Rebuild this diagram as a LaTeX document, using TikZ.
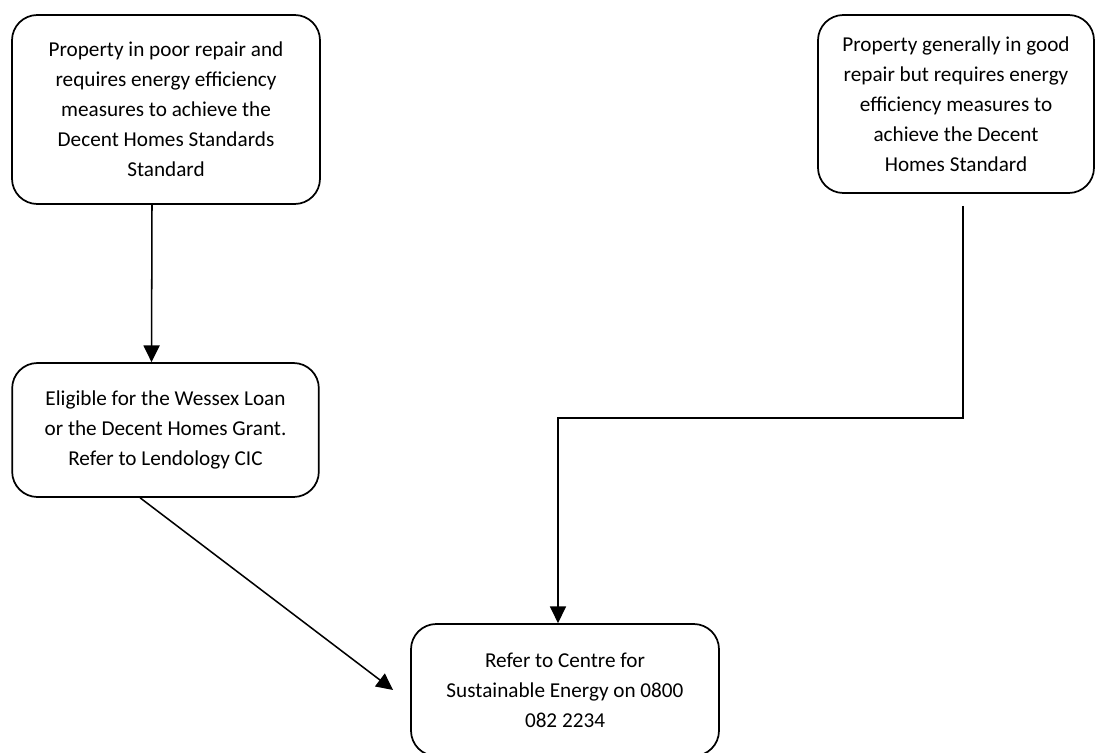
\documentclass[tikz,border=0pt]{standalone}
\usepackage{fontspec}
\setmainfont{Carlito}
\usetikzlibrary{arrows.meta}

\begin{document}
\begin{tikzpicture}[
  x=0.75pt,
  y=-0.75pt,
  >=Triangle,
  box/.style={draw, rounded corners=19pt, align=center, line width=1.3pt,
    font=\fontsize{15.9}{22.5}\selectfont, inner sep=0pt},
  flow/.style={-{Triangle[length=12.5pt,width=12pt]}, line width=1.15pt}
]
\useasboundingbox[fill=white] (0,0) rectangle (1096,753);
\node[box, minimum width=231pt, minimum height=141.75pt] (poor) at (166,109.5)
  {Property in poor repair and\\requires energy efficiency\\measures to achieve the\\Decent Homes Standards\\Standard};
\node[box, minimum width=207pt, minimum height=133.5pt] (good) at (956,104)
  {Property generally in good\\repair but requires energy\\efficiency measures to\\achieve the Decent\\Homes Standard};
\node[box, minimum width=230pt, minimum height=100.5pt] (loan) at (165.5,430)
  {Eligible for the Wessex Loan\\or the Decent Homes Grant.\\Refer to Lendology CIC};
\node[box, minimum width=231pt, minimum height=99pt] (cse) at (565,690)
  {Refer to Centre for\\Sustainable Energy on 0800\\082 2234};
\coordinate (turn) at (558,418);
\draw[flow] ([xshift=-10.5pt]poor.south) -- ([xshift=-10.5pt]loan.north);
\draw[flow] ([xshift=5.25pt,yshift=-9pt]good.south) |- (turn) -- ([xshift=-5.25pt]cse.north);
\draw[flow] ([xshift=-19pt]loan.south) -- ([xshift=-12.75pt]cse.west);
\end{tikzpicture}
\end{document}
